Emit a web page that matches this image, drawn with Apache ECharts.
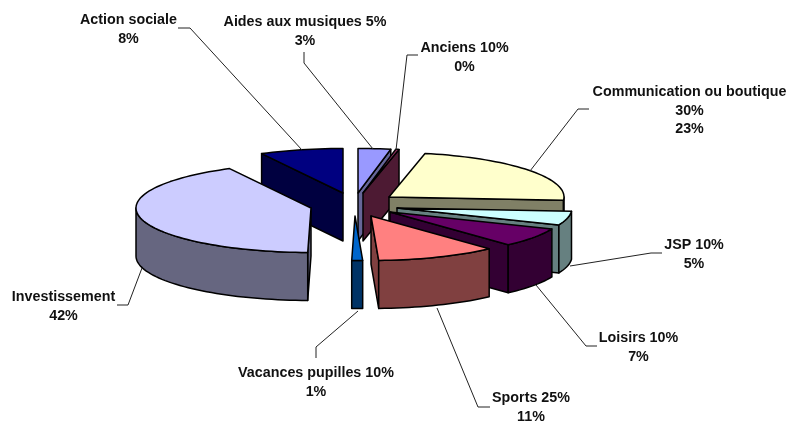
<!DOCTYPE html>
<html>
<head>
<meta charset="utf-8">
<style>html,body{margin:0;padding:0;background:#fff}#c{width:794px;height:423px}</style>
<script src="https://cdn.jsdelivr.net/npm/echarts@6/dist/echarts.min.js"></script>
</head>
<body>
<div id="c"></div>
<script>
const categories = ['Aides aux musiques 5%','Anciens 10%','Communication ou boutique\n30%','JSP 10%','Loisirs 10%','Sports 25%','Vacances pupilles 10%','Investissement','Action sociale'];
const percentLabels = ['3%','0%','23%','5%','7%','11%','1%','42%','8%'];
const values = [3.0,0.3,22.9,5.0,7.0,11.1,1.0,42.0,7.7];
const topColors = ['#9999FF','#993366','#FFFFCC','#CCFFFF','#660066','#FF8080','#0066CC','#CCCCFF','#000080'];
const sideColors = ['#666699','#4D1A33','#808066','#668080','#330033','#804040','#003366','#666680','#000040'];

// layout (separate from the data)
const RX = 175, RY = 44.5, DEPTH = 48;
const apex = [[358,193],[363,193],[389,197],[397,208],[390,212],[371,216],[355,216],[311,208],[343,193]];
const paintRank = [1,2,3,4,5,6,7,8,0];
const labelPos = [[305,22.5],[464.5,48.5],[689.5,92.5],[694,245.5],[638.5,338.5],[531,398.5],[316,373.5],[63.5,297.5],[128.5,20.5]];
const leaders = [
  [[304,52],[304,63],[373,149]],
  [[418,55],[407,55],[396,150]],
  [[589,109],[578,109],[530,171]],
  [[662,253],[651,253],[570,266]],
  [[597,346],[586,346],[536,285]],
  [[490,407],[478,407],[437,308]],
  [[316,358],[316,347],[358,311]],
  [[117,305],[128,305],[142,268]],
  [[178,28],[190,28],[302,150]]
];
const LINE_H = 18.5;
const total = values.reduce((a,b)=>a+b,0);

function pt(c, deg, dz){
  const r = deg*Math.PI/180;
  return [c[0]+RX*Math.sin(r), c[1]-RY*Math.cos(r)+(dz||0)];
}
function arcPts(c,a0,a1,dz){
  const n = Math.max(2,Math.ceil(Math.abs(a1-a0)/2)), out=[];
  for(let k=0;k<=n;k++) out.push(pt(c,a0+(a1-a0)*k/n,dz));
  return out;
}
function poly(points,fill,z2){
  return {type:'polygon',z2,shape:{points},style:{fill,stroke:'#000',lineWidth:1.5,lineJoin:'round'}};
}
function renderItem(params, api){
  const i = params.dataIndex, v = api.value(0);
  let before = 0;
  for(let k=0;k<i;k++) before += values[k];
  const a0 = before/total*360, a1 = (before+v)/total*360;
  const c = apex[i], base = paintRank[i]*10+1, kids=[];
  const cb = [c[0],c[1]+DEPTH];
  const s0 = Math.sin(a0*Math.PI/180), s1 = Math.sin(a1*Math.PI/180);
  if(s0<0) kids.push(poly([c,pt(c,a0),pt(c,a0,DEPTH),cb],sideColors[i],base));
  if(s1>0) kids.push(poly([c,pt(c,a1),pt(c,a1,DEPTH),cb],sideColors[i],base+1));
  const f0=Math.max(a0,90), f1=Math.min(a1,270);
  if(f1>f0){
    kids.push(poly(arcPts(c,f0,f1,0).concat(arcPts(c,f1,f0,DEPTH)),sideColors[i],base+2));
  }
  kids.push(poly([c].concat(arcPts(c,a0,a1,0)),topColors[i],base+3));
  // leader line
  kids.push({type:'polyline',z2:200,shape:{points:leaders[i]},style:{fill:null,stroke:'#222',lineWidth:1}});
  // label
  kids.push({type:'text',z2:210,style:{
    text:categories[i]+'\n'+percentLabels[i],
    x:labelPos[i][0],y:labelPos[i][1]-LINE_H/2,
    align:'center',verticalAlign:'top',lineHeight:LINE_H,
    font:'bold 14.3px "Liberation Sans", Arial, sans-serif',fill:'#111'
  }});
  return {type:'group',children:kids};
}
const chart = echarts.init(document.getElementById('c'),null,{renderer:'canvas'});
chart.setOption({
  animation:false,
  backgroundColor:'#fff',
  series:[{
    type:'custom',coordinateSystem:'none',silent:true,clip:false,
    renderItem,
    data:values.map((v,i)=>({name:categories[i],value:[v]}))
  }]
});
</script>
</body>
</html>
